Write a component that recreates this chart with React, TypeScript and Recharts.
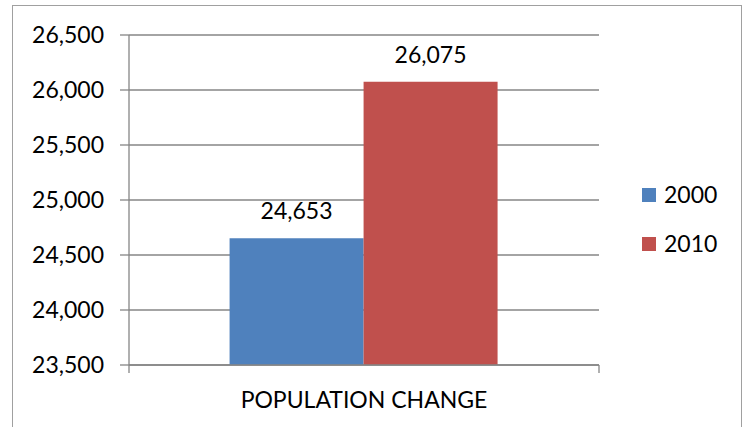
import React from 'react';
import { BarChart, Bar, XAxis, YAxis, CartesianGrid, Legend, LabelList } from 'recharts';

const categories = ['POPULATION CHANGE'];
const series2000 = [24653];
const series2010 = [26075];
const yTicks = [23500, 24000, 24500, 25000, 25500, 26000, 26500];
const seriesNames = ['2000', '2010'];
const seriesColors = ['#4F81BD', '#C0504D'];

const data = categories.map((c, i) => ({ name: c, y2000: series2000[i], y2010: series2010[i] }));

const fmt = (v: any) => Number(v).toLocaleString('en-US');
const GRID = '#868686';
const FONT = 23;

const CategoryTick = (props: any) => {
  const { x, y, payload } = props;
  const half = payload && typeof payload.offset === 'number' ? payload.offset : 0;
  return (
    <g>
      {half > 0 && (
        <>
          <line x1={x - half} x2={x - half} y1={y} y2={y + 8} stroke={GRID} strokeWidth={1.3} />
          <line x1={x + half} x2={x + half} y1={y} y2={y + 8} stroke={GRID} strokeWidth={1.3} />
        </>
      )}
      <text x={x} y={y + 27} dy="0.71em" textAnchor="middle" fontSize={FONT} fill="#000">
        {payload.value}
      </text>
    </g>
  );
};

const LegendContent = () => (
  <div style={{ fontFamily: 'Lato', fontSize: FONT, color: '#000' }}>
    {seriesNames.map((n, i) => (
      <div key={n} style={{ display: 'flex', alignItems: 'center', height: 49 }}>
        <div style={{ width: 14, height: 14, background: seriesColors[i], marginRight: 8 }} />
        <span style={{ lineHeight: 1 }}>{n}</span>
      </div>
    ))}
  </div>
);

export default function App() {
  return (
    <div style={{ position: 'absolute', left: 0, top: 0, width: 748, height: 427, overflow: 'hidden', background: '#fff', fontFamily: 'Lato' }}>
      <div style={{ position: 'absolute', left: 12, top: 5, width: 730, height: 460, border: '1.5px solid #a0a0a0', boxSizing: 'border-box' }} />
      <div style={{ position: 'absolute', left: 0, top: 0 }}>
        <BarChart width={748} height={427} data={data} margin={{ top: 35, right: 149, left: 0, bottom: 0 }} barCategoryGap="21.4%" barGap={0}>
          <CartesianGrid vertical={false} stroke={GRID} strokeWidth={1.3} />
          <XAxis dataKey="name" height={62} tickLine={false} tickSize={0} tickMargin={0} axisLine={{ stroke: GRID, strokeWidth: 1.3 }} tick={<CategoryTick />} />
          <YAxis width={129} domain={[23500, 26500]} ticks={yTicks} tickFormatter={fmt} tickSize={9} tickMargin={16} axisLine={{ stroke: GRID, strokeWidth: 1.3 }} tickLine={{ stroke: GRID, strokeWidth: 1.3 }} tick={{ fontSize: FONT, fill: '#000' }} allowDataOverflow />
          <Legend layout="vertical" align="center" verticalAlign="middle" content={<LegendContent />} wrapperStyle={{ left: 642, top: 170, width: 100 }} />
          <Bar dataKey="y2000" name={seriesNames[0]} fill={seriesColors[0]} isAnimationActive={false}>
            <LabelList dataKey="y2000" position="top" offset={19} formatter={fmt} style={{ fontSize: FONT, fill: '#000' }} />
          </Bar>
          <Bar dataKey="y2010" name={seriesNames[1]} fill={seriesColors[1]} isAnimationActive={false}>
            <LabelList dataKey="y2010" position="top" offset={19} formatter={fmt} style={{ fontSize: FONT, fill: '#000' }} />
          </Bar>
        </BarChart>
      </div>
    </div>
  );
}
